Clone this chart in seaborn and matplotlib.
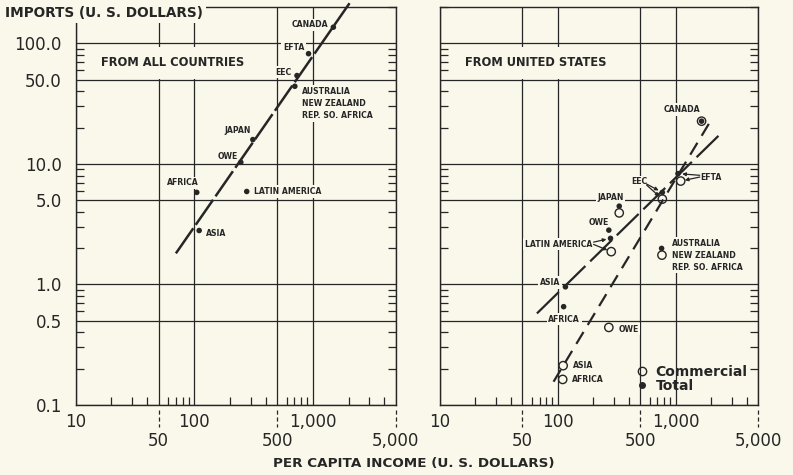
import numpy as np
import pandas as pd
import matplotlib
matplotlib.use("Agg")
import matplotlib.pyplot as plt
import matplotlib.transforms as mtransforms
from matplotlib.ticker import LogLocator, NullFormatter
from matplotlib.lines import Line2D
import seaborn as sns

# ---------------- data ----------------
all_regions = ["CANADA", "EFTA", "EEC", "AUSTRALIA\nNEW ZEALAND\nREP. SO. AFRICA",
               "JAPAN", "OWE", "AFRICA", "LATIN AMERICA", "ASIA"]
all_income = [1490, 920, 735, 705, 312, 247, 105, 277, 110]
all_imports = [136, 82, 54, 44, 15.9, 10.3, 5.8, 5.9, 2.8]
all_fit_income = [70, 2040]
all_fit_imports = [1.81, 215]

us_regions = ["CANADA", "EFTA", "EEC", "JAPAN", "OWE", "LATIN AMERICA",
              "AUSTRALIA\nNEW ZEALAND\nREP. SO. AFRICA", "ASIA", "AFRICA"]
us_total_income = [1660, 1047, 771, 332, 271, 280, 760, 116, 112]
us_total_imports = [22.6, 8.3, 5.8, 4.46, 2.82, 2.41, 1.99, 0.955, 0.654]
us_comm_income = [1660, 1104, 771, 332, 271, 284, 765, 111, 110]
us_comm_imports = [22.6, 7.2, 5.1, 3.92, 0.44, 1.87, 1.75, 0.212, 0.163]
us_total_fit_income = [66.5, 2340]
us_total_fit_imports = [0.575, 17.3]
us_comm_fit_income = [92, 1920]
us_comm_fit_imports = [0.156, 21.6]

x_major = [10, 50, 100, 500, 1000, 5000]
x_labels = ["10", "\n50", "100", "\n500", "1,000", "\n5,000"]
y_major = [0.1, 0.5, 1, 5, 10, 50, 100]
y_labels = ["0.1", "0.5", "1.0", "5.0", "10.0", "50.0", "100.0"]

panel_titles = ["FROM ALL COUNTRIES", "FROM UNITED STATES"]
legend_labels = ["Commercial", "Total"]

# ---------------- style ----------------
sns.set_theme(style="white")
bg = "#faf8eb"
ink = "#262626"
plt.rcParams["font.family"] = ["DejaVu Sans"]
plt.rcParams["lines.scale_dashes"] = False
plt.rcParams["text.color"] = ink

fig = plt.figure(figsize=(7.93, 4.75), dpi=100, facecolor=bg)
ax1 = fig.add_axes([75.7 / 793, 70 / 475, 320 / 793, 398 / 475])
ax2 = fig.add_axes([440 / 793, 70 / 475, 318 / 793, 398 / 475])

lab_kw = dict(fontsize=5.6, fontweight="bold", color=ink, zorder=3,
              bbox=dict(facecolor=bg, edgecolor="none", pad=1.2))


def style_axes(ax, show_y):
    ax.set_xscale("log")
    ax.set_yscale("log")
    ax.set_xlim(10, 5000)
    ax.set_ylim(0.1, 200)
    ax.set_facecolor(bg)
    ax.set_xticks(x_major)
    ax.set_xticklabels(x_labels)
    ax.set_yticks(y_major)
    ax.set_yticklabels(y_labels if show_y else [])
    for axis in (ax.xaxis, ax.yaxis):
        axis.set_minor_locator(LogLocator(base=10, subs=[2, 3, 4, 6, 7, 8, 9]))
        axis.set_minor_formatter(NullFormatter())
    ax.tick_params(which="major", length=0, labelsize=12, labelcolor=ink)
    ax.tick_params(axis="x", which="major", pad=6)
    ax.tick_params(axis="y", which="major", pad=10)
    ax.tick_params(which="minor", direction="in", length=5.5, width=0.9, color=ink)
    ax.tick_params(axis="x", which="minor", bottom=True, top=False)
    ax.tick_params(axis="y", which="minor", left=True, right=True)
    ax.grid(True, which="major", color=ink, lw=0.9)
    ax.grid(False, which="minor")
    ax.set_axisbelow(True)
    for s in ax.spines.values():
        s.set_color(ink)
        s.set_linewidth(1.0)
        s.set_visible(True)
    for lbl in ax.get_xticklabels():
        lbl.set_linespacing(1.05)
    trans = mtransforms.blended_transform_factory(ax.transData, ax.transAxes)
    for xv in x_major[1::2]:
        ax.plot([xv, xv], [-0.012, -0.055], transform=trans, clip_on=False,
                color=ink, lw=0.9, ls=(0, (3, 2)))


style_axes(ax1, True)
style_axes(ax2, False)

# ---------------- left panel ----------------
df_all = pd.DataFrame({"income": all_income, "imports": all_imports, "region": all_regions})
sns.lineplot(x=all_fit_income, y=all_fit_imports, ax=ax1, color=ink, lw=1.8, zorder=4)
l = ax1.lines[-1]
l.set_dashes((22, 3))
l.set_clip_on(False)
sns.scatterplot(data=df_all, x="income", y="imports", ax=ax1, color=ink, s=16,
                edgecolor="none", zorder=5, legend=False)

all_offsets = [(-3.8, 1.7, "right", "center"), (-3.1, 4.8, "right", "center"),
               (-4.3, 2.4, "right", "center"), (5, -0.6, "left", "top"),
               (-10.9, 6.2, "center", "center"), (-2.4, 4.3, "right", "center"),
               (-10.2, 6.9, "center", "center"), (5.3, 0, "left", "center"),
               (4.8, -2.5, "left", "center")]
for (x, y, name), (dx, dy, ha, va) in zip(zip(all_income, all_imports, all_regions), all_offsets):
    ax1.annotate(name, (x, y), xytext=(dx, dy), textcoords="offset points",
                 ha=ha, va=va, linespacing=1.45, **lab_kw)

# ---------------- right panel ----------------
df_tot = pd.DataFrame({"income": us_total_income, "imports": us_total_imports})
df_com = pd.DataFrame({"income": us_comm_income, "imports": us_comm_imports})
sns.lineplot(x=us_total_fit_income, y=us_total_fit_imports, ax=ax2, color=ink, lw=1.6, zorder=4)
ax2.lines[-1].set_dashes((22, 4.8))
sns.lineplot(x=us_comm_fit_income, y=us_comm_fit_imports, ax=ax2, color=ink, lw=1.6, zorder=4)
ax2.lines[-1].set_dashes((10, 5.9))
sns.scatterplot(data=df_tot, x="income", y="imports", ax=ax2, color=ink, s=16,
                edgecolor="none", zorder=5, legend=False)
sns.scatterplot(data=df_com, x="income", y="imports", ax=ax2, s=36,
                facecolor="none", edgecolor=ink, linewidth=1.0, zorder=6, legend=False)

# total-based labels
us_total_offsets = {"CANADA": (-13.9, 8.4, "center", "center"),
                    "EFTA": (16.3, -2.9, "left", "center"),
                    "EEC": (-10.8, 7.6, "right", "center"),
                    "JAPAN": (-6.3, 6.3, "center", "center"),
                    "OWE": (-7.2, 5.5, "center", "center"),
                    "LATIN AMERICA": (-13.2, -4.1, "right", "center"),
                    "AUSTRALIA\nNEW ZEALAND\nREP. SO. AFRICA": (7.7, 7.1, "left", "top"),
                    "ASIA": (-3.6, 3.2, "right", "center"),
                    "AFRICA": (0.4, -9.1, "center", "center")}
for x, y, name in zip(us_total_income, us_total_imports, us_regions):
    dx, dy, ha, va = us_total_offsets[name]
    ax2.annotate(name, (x, y), xytext=(dx, dy), textcoords="offset points",
                 ha=ha, va=va, linespacing=1.45, **lab_kw)

# commercial-only labels
us_comm_offsets = {"OWE": (6.8, -1.4), "ASIA": (7.4, 0), "AFRICA": (6.8, 0)}
for x, y, name in zip(us_comm_income, us_comm_imports, us_regions):
    if name in us_comm_offsets:
        dx, dy = us_comm_offsets[name]
        ax2.annotate(name, (x, y), xytext=(dx, dy), textcoords="offset points",
                     ha="left", va="center", **lab_kw)

# arrows
arrow_kw = dict(arrowstyle="-|>", color=ink, lw=0.9, mutation_scale=5, shrinkA=0, shrinkB=3)
arrow_spec = {"EEC": [(-11.3, 6.0), (-11.3, 10.1)],
              "EFTA": [(15.6, -1.2), (13.7, 2.9)],
              "LATIN AMERICA": [(-12.2, -2.7), (-12.7, 5.2)]}
for name, (o_tot, o_com) in arrow_spec.items():
    i = us_regions.index(name)
    ax2.annotate("", (us_total_income[i], us_total_imports[i]), xytext=o_tot,
                 textcoords="offset points", arrowprops=arrow_kw, zorder=6)
    ax2.annotate("", (us_comm_income[i], us_comm_imports[i]), xytext=o_com,
                 textcoords="offset points", arrowprops=arrow_kw, zorder=6)

# legend
handles = [Line2D([], [], ls="none", marker="o", ms=6, mfc="none", mec=ink, mew=1.0),
           Line2D([], [], ls="none", marker="o", ms=4, mfc=ink, mec=ink)]
leg = ax2.legend(handles, legend_labels, loc="lower left", bbox_to_anchor=(0.617, 0.03),
                 frameon=False, handlelength=0.8, handletextpad=0.6, labelspacing=0.0,
                 borderpad=0, borderaxespad=0,
                 prop=dict(family="DejaVu Sans", size=10, weight="bold"))
for t in leg.get_texts():
    t.set_color(ink)

# panel titles and cleanup of seaborn axis labels
for ax, title in zip((ax1, ax2), panel_titles):
    ax.set_xlabel("")
    ax.set_ylabel("")
    ax.text(0.08, 0.86, title, transform=ax.transAxes, ha="left", va="center",
            fontsize=8.3, fontweight="bold", color=ink, zorder=3,
            bbox=dict(facecolor=bg, edgecolor="none", pad=7))

fig.text(5 / 793, 1 - 13 / 475, "IMPORTS (U. S. DOLLARS)", ha="left", va="center",
         fontsize=9.8, fontweight="bold", color=ink, zorder=5,
         bbox=dict(facecolor=bg, edgecolor="none", pad=2))
fig.text(414 / 793, 1 - 463 / 475, "PER CAPITA INCOME (U. S. DOLLARS)", ha="center",
         va="center", fontsize=9.7, fontweight="bold", color=ink)

fig.savefig("out.png", dpi=100, facecolor=bg)
